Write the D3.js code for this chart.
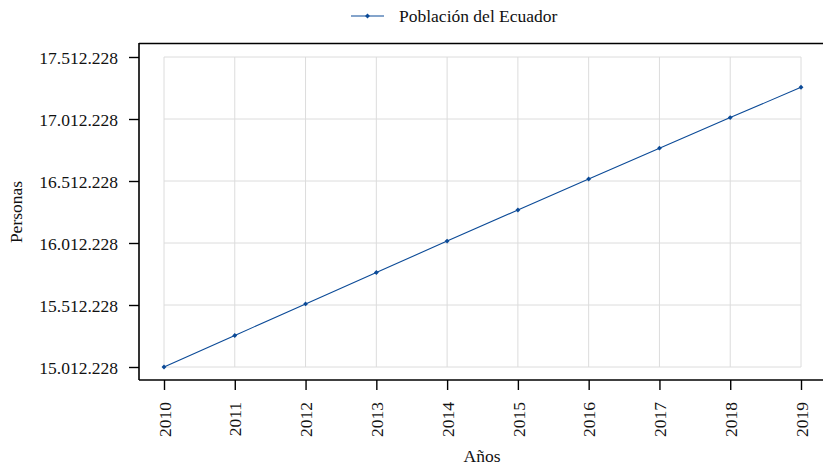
<!DOCTYPE html>
<html><head><meta charset="utf-8">
<script src="https://cdn.jsdelivr.net/npm/d3@7"></script>
<style>body{margin:0;background:#fff}svg{display:block}text{font-family:"Liberation Serif","DejaVu Serif",serif;fill:#111}</style>
</head><body><svg id="c" width="823" height="469"></svg>
<script>
const years = [2010,2011,2012,2013,2014,2015,2016,2017,2018,2019];
const population = [15012228,15266431,15520973,15774749,16027466,16278844,16528730,16776977,17023408,17267986];
const yTicks = [15012228,15512228,16012228,16512228,17012228,17512228];
const seriesName = "Población del Ecuador";
const xLabel = "Años", yLabel = "Personas";

const svg = d3.select("#c");
const color = "#0b4a97";
const fs = 17.5;
const x = d3.scaleLinear().domain([2010,2019]).range([164,801]);
const y = d3.scaleLinear().domain([15012228,17512228]).range([367,57]);
const fmt = d => d3.format(",")(d).replace(/,/g,".");

// grid
const g = svg.append("g");
g.selectAll(".vg").data(years).join("line")
  .attr("x1",d=>x(d)).attr("x2",d=>x(d)).attr("y1",y(17512228)).attr("y2",y(15012228))
  .attr("stroke","#dcdcdc").attr("stroke-width",1);
g.selectAll(".hg").data(yTicks).join("line")
  .attr("x1",x(2010)).attr("x2",x(2019)).attr("y1",d=>y(d)).attr("y2",d=>y(d))
  .attr("stroke","#dcdcdc").attr("stroke-width",1);

// spines
svg.append("line").attr("x1",139).attr("x2",823).attr("y1",43.5).attr("y2",43.5).attr("stroke","#000").attr("stroke-width",1.6);
svg.append("line").attr("x1",139).attr("x2",139).attr("y1",43).attr("y2",380).attr("stroke","#000").attr("stroke-width",1.6);
svg.append("line").attr("x1",139).attr("x2",823).attr("y1",380).attr("y2",380).attr("stroke","#000").attr("stroke-width",1.6);

// y axis
const ya = svg.append("g").attr("transform","translate(139,0)")
  .call(d3.axisLeft(y).tickValues(yTicks).tickFormat(fmt).tickSize(10).tickPadding(11));
ya.select(".domain").remove();
ya.selectAll(".tick line").attr("stroke","#000").attr("stroke-width",1.4);
ya.selectAll(".tick text").attr("font-size",fs).attr("font-family","Liberation Serif").attr("fill","#111").attr("dy","0.35em");

// x axis
const xa = svg.append("g").attr("transform","translate(0,380)")
  .call(d3.axisBottom(x).tickValues(years).tickFormat(d3.format("d")).tickSize(10));
xa.select(".domain").remove();
xa.selectAll(".tick line").attr("stroke","#000").attr("stroke-width",1.4);
xa.selectAll(".tick text").attr("font-size",fs).attr("font-family","Liberation Serif").attr("fill","#111")
  .attr("transform","rotate(-90)").attr("text-anchor","end").attr("x",-22).attr("y",0).attr("dy","0.35em");

// line
svg.append("path").datum(years.map((d,i)=>[d,population[i]]))
  .attr("d",d3.line().x(d=>x(d[0])).y(d=>y(d[1])))
  .attr("fill","none").attr("stroke",color).attr("stroke-width",1.1);
svg.selectAll(".pt").data(years).join("path")
  .attr("d",d3.symbol(d3.symbolSquare,12))
  .attr("transform",(d,i)=>`translate(${x(d)},${y(population[i])}) rotate(45)`).attr("fill",color);

// labels
svg.append("text").attr("x",482).attr("y",462).attr("text-anchor","middle").attr("font-size",fs).text(xLabel);
svg.append("text").attr("transform","translate(22,212) rotate(-90)").attr("text-anchor","middle").attr("font-size",fs).text(yLabel);

// legend
svg.append("line").attr("x1",351).attr("x2",384).attr("y1",16).attr("y2",16).attr("stroke",color).attr("stroke-width",1.1);
svg.append("path").attr("d",d3.symbol(d3.symbolSquare,12)).attr("transform","translate(367.5,16) rotate(45)").attr("fill",color);
svg.append("text").attr("x",399).attr("y",21.5).attr("font-size",fs).text(seriesName);
</script></body></html>
